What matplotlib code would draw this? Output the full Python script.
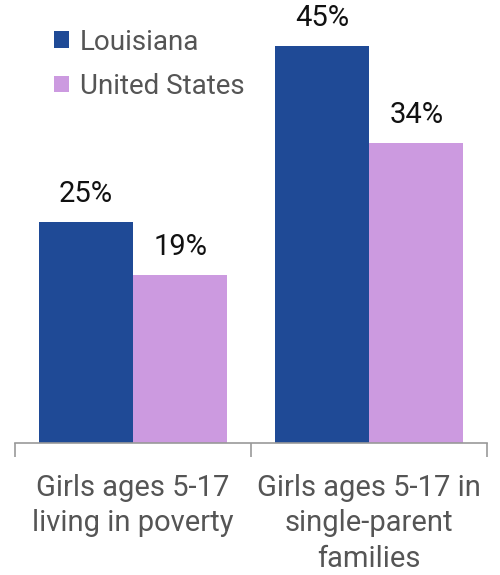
import matplotlib.pyplot as plt
import numpy as np

categories = ["Girls ages 5-17\nliving in poverty", "Girls ages 5-17 in\nsingle-parent\nfamilies"]
louisiana = [25, 45]
united_states = [19, 34]
series_names = ["Louisiana", "United States"]
colors = ["#1f4a96", "#cc9ae0"]

plt.rcParams['font.family'] = ['Roboto', 'DejaVu Sans']

fig = plt.figure(figsize=(5, 5.75), dpi=100)
ax = fig.add_axes([0.03, 0.2296, 0.944, 0.7704])

x = np.arange(len(categories))
w = 0.4
b1 = ax.bar(x - w / 2, louisiana, w, color=colors[0], label=series_names[0])
b2 = ax.bar(x + w / 2, united_states, w, color=colors[1], label=series_names[1])

for bars, vals in [(b1, louisiana), (b2, united_states)]:
    for r, v in zip(bars, vals):
        ax.text(r.get_x() + r.get_width() / 2, v + 1.6, f"{v}%", ha="center", va="bottom",
                fontsize=21, color="#111111")

ax.set_xlim(-0.5, 1.5)
ax.set_ylim(0, 50.2)
ax.set_yticks([])
ax.set_xticks(x)
ax.set_xticklabels(categories, fontsize=21, color="#555555", linespacing=1.35)
ax.tick_params(axis="x", which="major", length=0, pad=22)
ax.set_xticks([-0.5, 0.5, 1.5], minor=True)
ax.tick_params(axis="x", which="minor", length=10, width=1.2, color="#999999")

for s in ["top", "right", "left"]:
    ax.spines[s].set_visible(False)
ax.spines["bottom"].set_color("#999999")
ax.spines["bottom"].set_linewidth(1.2)

ax.legend(frameon=False, loc="upper left", bbox_to_anchor=(0.047, 0.973), fontsize=20,
          handlelength=0.55, handleheight=0.55, handletextpad=0.4, labelspacing=0.62,
          labelcolor="#555555", borderaxespad=0.2)

fig.savefig("out.png", dpi=100)
